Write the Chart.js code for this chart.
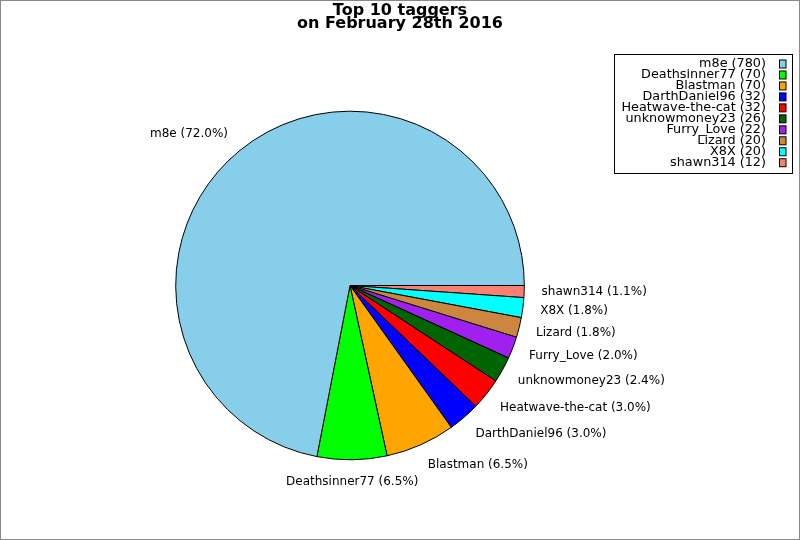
<!DOCTYPE html>
<html>
<head>
<meta charset="utf-8">
<title>Top 10 taggers</title>
<script src="https://cdn.jsdelivr.net/npm/chart.js@4.4.1/dist/chart.umd.min.js"></script>
<style>
    html, body { margin: 0; padding: 0; background: #fff; }
    #chart { display: block; }
</style>
</head>
<body>
<canvas id="chart" width="800" height="540"></canvas>
<script>
// Chart data
const taggers = ['m8e', 'Deathsinner77', 'Blastman', 'DarthDaniel96', 'Heatwave-the-cat',
    'unknowmoney23', 'Furry_Love', 'Lizard', 'X8X', 'shawn314'];
const tagCounts = [780, 70, 70, 32, 32, 26, 22, 20, 20, 12];
const sliceColors = ['#87CEEB', '#00FF00', '#FFA500', '#0000FF', '#FF0000',
    '#006400', '#A020F0', '#CD853F', '#00FFFF', '#FA8072'];
const titleLines = ['Top 10 taggers', 'on February 28th 2016'];

const FONT = "'DejaVu Sans', Verdana, sans-serif";
const total = tagCounts.reduce((a, b) => a + b, 0);

// The reference runs its slices counter-clockwise from 3 o'clock;
// Chart.js goes clockwise, so feed it reversed and start at 90 degrees.
const revLabels = taggers.slice().reverse();
const revCounts = tagCounts.slice().reverse();
const revColors = sliceColors.slice().reverse();

const pctText = (v) => (v / total * 100).toFixed(1) + '%';

const decorations = {
    id: 'decorations',
    afterDraw(chart) {
        const ctx = chart.ctx;
        ctx.save();

        // Title
        ctx.fillStyle = '#000';
        ctx.font = 'bold 16px ' + FONT;
        ctx.textAlign = 'center';
        ctx.textBaseline = 'middle';
        ctx.fillText(titleLines[0], 400, 11);
        ctx.fillText(titleLines[1], 400, 24);

        // Slice labels outside the pie
        ctx.font = '12px ' + FONT;
        const meta = chart.getDatasetMeta(0);
        meta.data.forEach((arc, i) => {
            const mid = (arc.startAngle + arc.endAngle) / 2;
            const c = Math.cos(mid);
            const s = Math.sin(mid);
            const dist = arc.outerRadius * 1.1;
            const x = arc.x + c * dist;
            const y = arc.y + s * dist + s * 5;
            if (Math.abs(c) < 0.1) ctx.textAlign = 'center';
            else ctx.textAlign = c > 0 ? 'left' : 'right';
            ctx.fillText(revLabels[i] + ' (' + pctText(revCounts[i]) + ')', x, y);
        });

        // Legend box
        const boxL = 614.5, boxT = 54.5, boxR = 792.5, boxB = 173.5;
        ctx.fillStyle = '#fff';
        ctx.fillRect(boxL, boxT, boxR - boxL, boxB - boxT);
        ctx.strokeStyle = '#000';
        ctx.lineWidth = 1;
        ctx.strokeRect(boxL, boxT, boxR - boxL, boxB - boxT);

        ctx.font = '12.8px ' + FONT;
        ctx.textAlign = 'right';
        ctx.textBaseline = 'middle';
        taggers.forEach((name, i) => {
            const y = 64 + i * 10.97;
            ctx.fillStyle = '#000';
            ctx.fillText(name + ' (' + tagCounts[i] + ')', 766, y);
            ctx.fillStyle = sliceColors[i];
            ctx.fillRect(779.5, y - 4, 6.5, 8);
            ctx.strokeRect(779.5, y - 4, 6.5, 8);
        });

        // Outer frame
        ctx.strokeStyle = '#888';
        ctx.strokeRect(0.5, 0.5, 799, 539);
        ctx.restore();
    }
};

new Chart(document.getElementById('chart').getContext('2d'), {
    type: 'pie',
    data: {
        labels: revLabels,
        datasets: [{
            data: revCounts,
            backgroundColor: revColors,
            borderColor: '#000',
            borderWidth: 1,
            hoverOffset: 0
        }]
    },
    options: {
        responsive: false,
        devicePixelRatio: 1,
        animation: false,
        rotation: 90,
        radius: 174.3,
        layout: {
            padding: { left: 150, right: 250, top: 111, bottom: 80 }
        },
        events: [],
        plugins: {
            legend: { display: false },
            title: { display: false },
            tooltip: { enabled: false }
        }
    },
    plugins: [decorations]
});
</script>
</body>
</html>
